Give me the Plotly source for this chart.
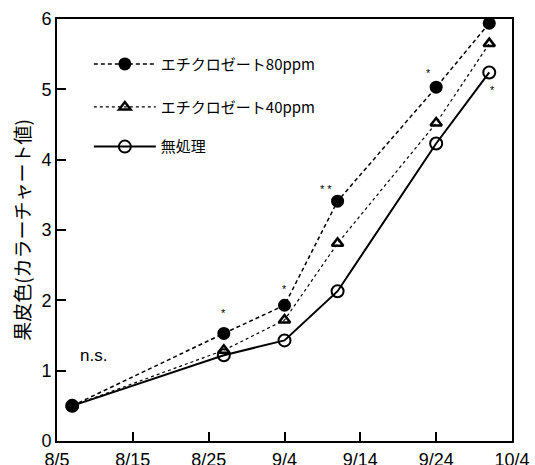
import plotly.graph_objects as go

dates = ["2000-08-07", "2000-08-27", "2000-09-04", "2000-09-11", "2000-09-24", "2000-10-01"]
ppm80 = [0.5, 1.53, 1.93, 3.41, 5.03, 5.94]
ppm40 = [0.5, 1.29, 1.72, 2.81, 4.52, 5.65]
control = [0.5, 1.22, 1.43, 2.13, 4.23, 5.24]

tick_dates = ["2000-08-05", "2000-08-15", "2000-08-25", "2000-09-04", "2000-09-14", "2000-09-24", "2000-10-04"]
tick_labels = ["8/5", "8/15", "8/25", "9/4", "9/14", "9/24", "10/4"]

sig_dates = ["2000-08-27", "2000-09-04", "2000-09-09 12:00", "2000-09-23", "2000-10-01 10:00"]
sig_y = [1.82, 2.16, 3.59, 5.23, 4.99]
sig_text = ["*", "*", "* *", "*", "*"]

jp = "Noto Sans CJK JP"
fig = go.Figure()

fig.add_trace(go.Scatter(x=dates, y=control, mode="lines+markers", name="無処理",
                         line=dict(color="black", width=2),
                         marker=dict(symbol="circle-open", size=12, color="black", line=dict(width=2)),
                         legend="legend3"))
fig.add_trace(go.Scatter(x=dates, y=ppm40, mode="lines+markers", name="エチクロゼート40ppm",
                         line=dict(color="black", width=1.2, dash="dot"),
                         marker=dict(symbol="triangle-up-open", size=10, color="black", line=dict(width=2.5)),
                         legend="legend2"))
fig.add_trace(go.Scatter(x=dates, y=ppm80, mode="lines+markers", name="エチクロゼート80ppm",
                         line=dict(color="black", width=1.5, dash="4px,3px"),
                         marker=dict(symbol="circle", size=13, color="black"),
                         legend="legend"))

for d, yv, t in zip(sig_dates, sig_y, sig_text):
    fig.add_annotation(x=d, y=yv, text=t, showarrow=False, font=dict(size=11, color="black", family="Liberation Sans"))
fig.add_annotation(x="2000-08-09 18:00", y=1.22, text="n.s.", showarrow=False,
                   font=dict(size=17, color="black", family="Liberation Sans"))

leg = dict(bgcolor="rgba(0,0,0,0)", font=dict(size=15, family=jp, color="black"),
           itemwidth=62, xanchor="left", yanchor="middle", borderwidth=0)
axis_common = dict(ticks="inside", ticklen=9, tickcolor="black", tickwidth=1.5,
                   showline=True, linecolor="black", linewidth=2, mirror=True, showgrid=False, zeroline=False,
                   automargin=False, tickfont=dict(size=18, family="Liberation Sans", color="black"))
fig.update_layout(
    width=535, height=465,
    margin=dict(l=57, r=23, t=19, b=24),
    paper_bgcolor="white", plot_bgcolor="white",
    showlegend=True,
    legend=dict(leg, x=0.07, y=0.893),
    legend2=dict(leg, x=0.07, y=0.791),
    legend3=dict(leg, x=0.07, y=0.697),
    xaxis=dict(axis_common, type="date", range=["2000-08-05", "2000-10-04"], tickvals=tick_dates,
               ticktext=tick_labels, ticklabelstandoff=1),
    yaxis=dict(axis_common, range=[0, 6], dtick=1,
               title=dict(text="果皮色(カラーチャート値)", font=dict(size=19, family=jp, color="black"), standoff=6)),
)

# remove the browser's default 8px body margin so the figure fills the window exactly
fig.write_html("out.html", config={"displayModeBar": False},
               post_script="document.body.style.margin='0';document.body.style.overflow='hidden';")
